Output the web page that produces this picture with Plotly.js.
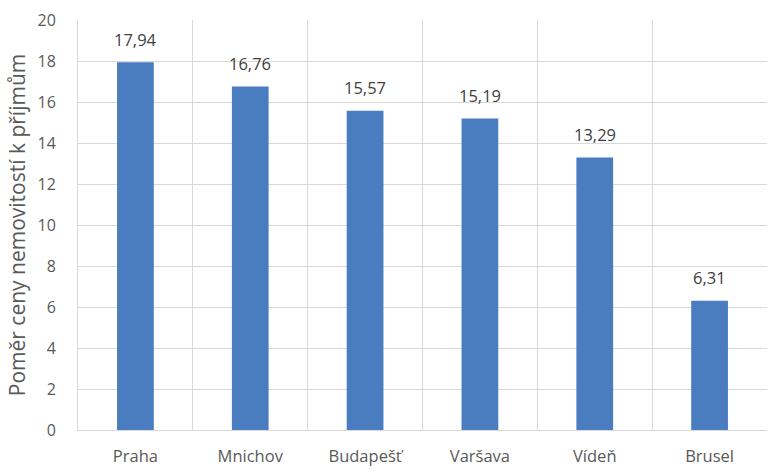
<!DOCTYPE html>
<html><head><meta charset="utf-8">
<script src="https://cdn.plot.ly/plotly-3.0.1.min.js"></script>
<style>html,body{margin:0;padding:0;background:#fff}</style>
</head><body>
<div id="chart" style="width:769px;height:472px"></div>
<script>
var cities = ["Praha", "Mnichov", "Budapešť", "Varšava", "Vídeň", "Brusel"];
var ratios = [17.94, 16.76, 15.57, 15.19, 13.29, 6.31];
var labels = ["17,94", "16,76", "15,57", "15,19", "13,29", "6,31"];
var yTicks = [0, 2, 4, 6, 8, 10, 12, 14, 16, 18, 20];

var FONT = "'Open Sans', Lato, sans-serif";

var trace = {
  type: "bar",
  x: cities,
  y: ratios,
  width: 0.32,
  marker: {color: "#4a7dbf"},
  hoverinfo: "none"
};

var annotations = cities.map(function (c, i) {
  return {
    x: c, y: ratios[i], xref: "x", yref: "y",
    text: labels[i], showarrow: false,
    yanchor: "middle", yshift: 23,
    font: {family: FONT, size: 16.5, color: "#404040"}
  };
});

var layout = {
  width: 769, height: 472,
  margin: {l: 78, r: 2, t: 20, b: 42},
  paper_bgcolor: "#fff", plot_bgcolor: "#fff",
  showlegend: false,
  font: {family: FONT, color: "#595959"},
  annotations: annotations,
  xaxis: {
    type: "category",
    tickson: "boundaries",
    showgrid: true, gridcolor: "#d9d9d9", gridwidth: 1,
    ticks: "", ticklen: 0,
    showline: true, linecolor: "#d9d9d9", linewidth: 1,
    tickfont: {family: FONT, size: 16.5, color: "#595959"},
    ticklabelstandoff: 11,
    fixedrange: true
  },
  yaxis: {
    range: [0, 20],
    tickvals: yTicks,
    ticktext: yTicks.map(String),
    showgrid: true, gridcolor: "#d9d9d9", gridwidth: 1,
    zeroline: false,
    showline: true, linecolor: "#d9d9d9",
    ticks: "",
    tickfont: {family: FONT, size: 16, color: "#595959"},
    ticklabelstandoff: 18,
    title: {text: "Poměr ceny nemovitostí k příjmům", font: {family: FONT, size: 21, color: "#595959"}, standoff: 6},
    fixedrange: true
  }
};
Plotly.newPlot("chart", [trace], layout, {displayModeBar: false, staticPlot: true});
</script>
</body></html>
